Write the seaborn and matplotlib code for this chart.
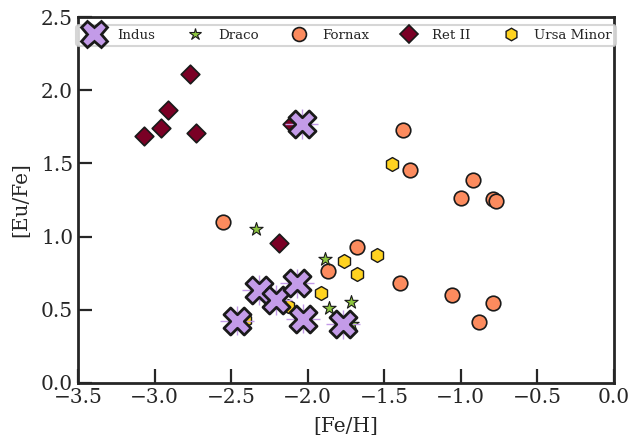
import numpy as np
import pandas as pd
import matplotlib
matplotlib.use("Agg")
import matplotlib.pyplot as plt
import seaborn as sns
from matplotlib.lines import Line2D

# ---- data ----
indus_feh = [-2.04, -2.32, -2.21, -2.07, -2.46, -2.03, -1.77]
indus_eu = [1.77, 0.635, 0.567, 0.68, 0.426, 0.44, 0.40]
indus_feh_err = [0.11, 0.11, 0.11, 0.11, 0.11, 0.11, 0.11]
indus_eu_err = [0.10, 0.10, 0.10, 0.10, 0.10, 0.10, 0.10]

draco_feh = [-2.34, -1.89, -1.72, -1.86, -1.71]
draco_eu = [1.05, 0.845, 0.555, 0.515, 0.40]

fornax_feh = [-2.55, -1.68, -1.87, -1.40, -1.38, -1.33, -0.92, -1.00, -0.79, -0.77, -1.06, -0.79, -0.88]
fornax_eu = [1.10, 0.93, 0.765, 0.685, 1.725, 1.455, 1.385, 1.265, 1.255, 1.245, 0.60, 0.545, 0.415]

ret_feh = [-2.77, -2.91, -2.96, -3.07, -2.73, -2.10, -2.19]
ret_eu = [2.11, 1.865, 1.745, 1.685, 1.705, 1.77, 0.955]

umi_feh = [-1.76, -1.55, -1.68, -1.91, -1.45, -2.13, -2.41]
umi_eu = [0.835, 0.875, 0.745, 0.613, 1.495, 0.525, 0.43]

names = ["Indus", "Draco", "Fornax", "Ret II", "Ursa Minor"]
x_ticks = [-3.5, -3.0, -2.5, -2.0, -1.5, -1.0, -0.5, 0.0]
y_ticks = [0.0, 0.5, 1.0, 1.5, 2.0, 2.5]

sns.set_theme(style="ticks")
plt.rcParams["font.family"] = ["DejaVu Serif"]
plt.rcParams["axes.edgecolor"] = "#262626"
plt.rcParams["axes.linewidth"] = 2.0

fig = plt.figure(figsize=(6.32, 4.42), dpi=100)
ax = fig.add_axes([78 / 632, 1 - 383 / 442, (614 - 78) / 632, (383 - 17) / 442])

c_indus = "#C39BE8"
c_draco = "#8DC63F"
c_fornax = "#FC8B5E"
c_ret = "#7A0025"
c_umi = "#FFD320"
ec = "#1a1a1a"

sns.scatterplot(x=ret_feh, y=ret_eu, marker="D", s=90, color=c_ret,
                edgecolor=ec, linewidth=1.2, ax=ax, zorder=3)
sns.scatterplot(x=fornax_feh, y=fornax_eu, marker="o", s=110, color=c_fornax,
                edgecolor=ec, linewidth=1.2, ax=ax, zorder=3)
sns.scatterplot(x=umi_feh, y=umi_eu, marker="h", s=100, color=c_umi,
                edgecolor=ec, linewidth=1.0, ax=ax, zorder=3)
sns.scatterplot(x=draco_feh, y=draco_eu, marker="*", s=100, color=c_draco,
                edgecolor=ec, linewidth=0.8, ax=ax, zorder=3)
ax.errorbar(indus_feh, indus_eu, xerr=indus_feh_err, yerr=indus_eu_err,
            fmt="none", ecolor=c_indus, elinewidth=1.0, zorder=4)
sns.scatterplot(x=indus_feh, y=indus_eu, marker="X", s=380, color=c_indus,
                edgecolor=ec, linewidth=2.0, ax=ax, zorder=5)

handles = [
    Line2D([], [], ls="none", marker="X", ms=19, mfc=c_indus, mec=ec, mew=2.0),
    Line2D([], [], ls="none", marker="*", ms=9, mfc=c_draco, mec=ec, mew=0.8),
    Line2D([], [], ls="none", marker="o", ms=10, mfc=c_fornax, mec=ec, mew=1.2),
    Line2D([], [], ls="none", marker="D", ms=9, mfc=c_ret, mec=ec, mew=1.2),
    Line2D([], [], ls="none", marker="h", ms=9, mfc=c_umi, mec=ec, mew=1.0),
]
leg = ax.legend(handles, names, loc="upper center", bbox_to_anchor=(0.5, 0.985),
                ncol=5, fontsize=9.6, frameon=True, handletextpad=0.75,
                columnspacing=2.0, borderpad=0.3, borderaxespad=0.2)
leg.get_frame().set_edgecolor("#cccccc")
leg.get_frame().set_linewidth(1.5)

ax.set_xlim(-3.5, 0.0)
ax.set_ylim(0.0, 2.5)
ax.set_xticks(x_ticks)
ax.set_yticks(y_ticks)
ax.set_xticklabels([f"{v:.1f}".replace("-", "\u2212") for v in x_ticks])
ax.set_yticklabels([f"{v:.1f}" for v in y_ticks])
ax.tick_params(direction="in", length=10, width=1.6, labelsize=14.5, color="#262626",
               top=False, right=False)
ax.set_xlabel("[Fe/H]", fontsize=14.5, labelpad=7)
ax.set_ylabel("[Eu/Fe]", fontsize=14.5, labelpad=8)
for sp in ax.spines.values():
    sp.set_visible(True)
    sp.set_linewidth(2.0)
    sp.set_color("#262626")

fig.savefig("out.png", dpi=100)
